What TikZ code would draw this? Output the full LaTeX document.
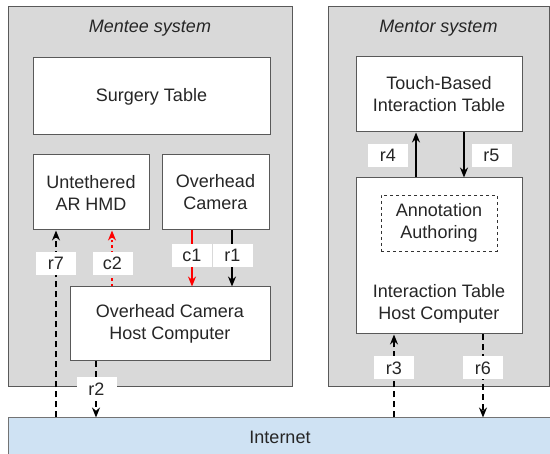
\documentclass[tikz,border=0pt]{standalone}
\usepackage{fontspec}
\setmainfont{Liberation Sans}
\usetikzlibrary{positioning, arrows.meta, calc}
\definecolor{netblue}{RGB}{207,226,243}

\begin{document}
\begin{tikzpicture}[
        x=1pt, y=-1pt,
        font=\fontsize{18pt}{22pt}\selectfont,
        system/.style={draw=black!65, line width=1pt, fill=black!15, inner sep=0pt},
        unit/.style={draw=black!65, line width=1pt, fill=white, align=center, inner sep=0pt, text=black!85},
        inner/.style={draw=black!80, dashed, line width=0.8pt, fill=white, align=center, inner sep=0pt, minimum width=116pt, minimum height=56pt, text=black!85},
        net/.style={draw=black!55, line width=1pt, fill=netblue, inner sep=0pt, text=black!85},
        title/.style={font=\fontsize{18pt}{22pt}\selectfont\itshape, text=black!85},
        tag/.style={fill=white, inner sep=0pt, minimum width=40pt, minimum height=23pt, text=black!85},
        flow/.style={-{Stealth[length=10pt, width=8pt]}, line width=1.6pt},
        link/.style={flow, dash pattern=on 6pt off 4pt},
        ctrl/.style={flow, red},
        ctrldot/.style={flow, red, dash pattern=on 2.5pt off 3pt}
    ]
    \useasboundingbox (0,0) rectangle (550,454);
    % Systems
    \node[system, minimum width=284pt, minimum height=380pt] (mentee) at (150,197) {};
    \node[system, minimum width=221pt, minimum height=380pt] (mentor) at (438.5,197) {};
    \node[title] at ([yshift=-22pt]mentee.north) {Mentee system};
    \node[title] at ([yshift=-22pt]mentor.north) {Mentor system};
    \node[net, minimum width=544pt, minimum height=38pt] (internet) at (280,437) {Internet};

    % Mentee nodes
    \node[unit, minimum width=237pt, minimum height=77pt] (surgery) at (151.5,96.5) {Surgery Table};
    \node[unit, minimum width=116pt, minimum height=75pt] (hmd) at (91,192.5) {Untethered\\AR HMD};
    \node[unit, minimum width=107pt, minimum height=75pt] (camera) at (215.5,192.5) {Overhead\\Camera};
    \node[unit, minimum width=200pt, minimum height=74pt] (host) at (170,324) {Overhead Camera\\Host Computer};

    % Mentor nodes
    \node[unit, minimum width=166pt, minimum height=75pt] (touch) at (439,94.5) {Touch-Based\\Interaction Table};
    \node[unit, minimum width=166pt, minimum height=156pt] (ithost) at (439,256) {};
    \node[text=black!85, align=center] at ([yshift=-48pt]ithost.center) {Interaction Table\\Host Computer};
    \node[inner] (authoring) at (439,223) {Annotation\\Authoring};

    % Anchors for the connectors
    \coordinate (r7end) at ([xshift=-35pt]hmd.south);
    \coordinate (c2end) at ([xshift=21pt]hmd.south);
    \coordinate (c1start) at ([xshift=-23.5pt]camera.south);
    \coordinate (r1start) at ([xshift=16.5pt]camera.south);
    \coordinate (r2start) at ([xshift=-74pt]host.south);
    \coordinate (r4start) at ([xshift=-23pt]ithost.north);
    \coordinate (r5start) at ([xshift=25pt]touch.south);
    \coordinate (r3end) at ([xshift=-45pt]ithost.south);
    \coordinate (r6start) at ([xshift=44pt]ithost.south);

    % Connectors
    \draw[link] (internet.north -| r7end) -- (r7end);
    \draw[ctrldot] (host.north -| c2end) -- (c2end);
    \draw[ctrl] (c1start) -- (host.north -| c1start);
    \draw[flow] (r1start) -- (host.north -| r1start);
    \draw[link] (r2start) -- (internet.north -| r2start);
    \draw[flow] (r4start) -- (touch.south -| r4start);
    \draw[flow] (r5start) -- (ithost.north -| r5start);
    \draw[link] (internet.north -| r3end) -- (r3end);
    \draw[link] (r6start) -- (internet.north -| r6start);

    % Labels
    \node[tag] at (56,263.5) {r7};
    \node[tag] at (112.5,263.5) {c2};
    \node[tag] at (192,255.5) {c1};
    \node[tag] at (232.5,255.5) {r1};
    \node[tag] at (96.5,389) {r2};
    \node[tag] at (388,155.5) {r4};
    \node[tag] at (491.5,155.5) {r5};
    \node[tag] at (394,368) {r3};
    \node[tag] at (483,368) {r6};
\end{tikzpicture}
\end{document}
